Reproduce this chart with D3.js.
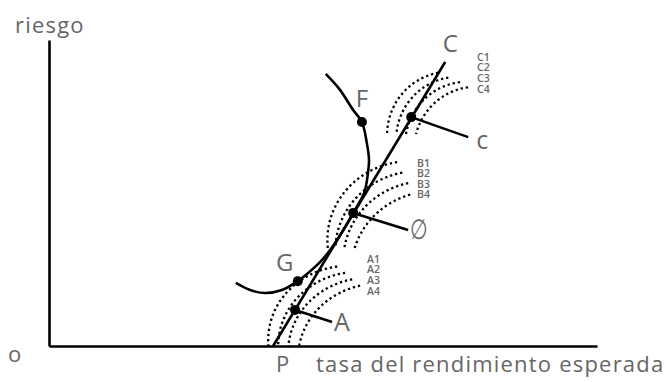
<!DOCTYPE html>
<html>
<head>
<meta charset="utf-8">
<script src="https://cdn.jsdelivr.net/npm/d3@7"></script>
<style>
  body { margin: 0; background: #fff; }
  svg { display: block; }
  text { font-family: "Open Sans", sans-serif; fill: #666; }
</style>
</head>
<body>
<svg id="chart" width="666" height="382"></svg>
<script>
// ---- Labels -------------------------------------------------------------
const yTitle = "riesgo";
const xTitle = "tasa del rendimiento esperada";
const originLabel = "o";
const riskFreeLabel = "P";
const lineLabel = "C";

// ---- Capital market line (return vs. risk, 0–100 scale) -------------------
const lineReturn = [40.9, 72.3];
const lineRisk = [0, 92.8];

// Chosen portfolios on the line
const portfolioNames = ["A", "\u2205", "c"];
const portfolioReturn = [44.9, 55.5, 66.1];
const portfolioRisk = [11.8, 43.5, 74.8];

// ---- Efficient frontier ----------------------------------------------------
const frontierReturn = [50.5, 53.1, 55.5, 57.1, 58.0, 58.4, 58.2, 57.5, 55.5, 53.5,
                        51.3, 49.5, 47.3, 45.4, 42.5, 39.4, 36.7, 34.1];
const frontierRisk   = [88.9, 83.7, 77.1, 73.2, 66.3, 60.8, 56.5, 50.0, 43.5, 37.3,
                        31.4, 27.5, 23.9, 21.2, 18.3, 17.3, 18.3, 20.6];
const frontierPointNames = ["F", "G"];
const frontierPointReturn = [57.1, 45.4];
const frontierPointRisk = [73.2, 21.2];

// ---- Indifference curves: four levels per investor -------------------------
const investorNames = ["A", "B", "C"];
const curveLevels = ["1", "2", "3", "4"];
const curveCenterReturn = [54.6, 65.9, 73.0];
const curveCenterRisk = [2.0, 34.6, 69.0];
const curveRadiusReturn = [14.6, 15.1, 11.3];
const curveRadiusRisk = [24.2, 25.8, 20.6];
const curveStepReturn = [1.82, 1.46, 1.64];
const curveStepRisk = [-1.96, -3.27, -1.63];
const curveFloorRisk = [0, 32.0, 69.3];
const curveEndAngle = [[97.9, 99.4, 101.5, 103.0],
                       [99.0, 101.0, 102.5, 106.8],
                       [100.0, 99.0, 96.5, 97.4]];

// ---- Layout ----------------------------------------------------------------
const svg = d3.select("#chart");
const x = d3.scaleLinear().domain([0, 100]).range([49, 597]);
const y = d3.scaleLinear().domain([0, 100]).range([346, 40]);
const ink = "#000";
const strokeW = 2.6;

// Axes (no ticks, just the domain lines)
svg.append("g").attr("transform", `translate(0,${y(0)})`)
  .call(d3.axisBottom(x).tickValues([]).tickSizeOuter(0))
  .call(g => g.select(".domain").attr("stroke", ink).attr("stroke-width", strokeW));
svg.append("g").attr("transform", `translate(${x(0)},0)`)
  .call(d3.axisLeft(y).tickValues([]).tickSizeOuter(0))
  .call(g => g.select(".domain").attr("stroke", ink).attr("stroke-width", strokeW));

svg.append("text").attr("x", 15).attr("y", 33).attr("font-size", 22)
  .attr("letter-spacing", 1.2).text(yTitle);
svg.append("text").attr("x", 8).attr("y", 362).attr("font-size", 22).text(originLabel);
svg.append("text").attr("x", 276).attr("y", 372).attr("font-size", 22).text(riskFreeLabel);
svg.append("text").attr("x", 316).attr("y", 372).attr("font-size", 22)
  .attr("letter-spacing", 1.2).text(xTitle);

// Indifference curves (dotted elliptical arcs)
const curveLabelLayout = [
  { x: 367, y: [263, 273, 284, 295] },
  { x: 417, y: [167, 177, 188, 198] },
  { x: 477, y: [61, 71, 82, 93] }
];
const arcLine = d3.line().x(d => d[0]).y(d => d[1]);
investorNames.forEach((name, gi) => {
  const g = svg.append("g");
  curveLevels.forEach((lvl, li) => {
    const cxv = curveCenterReturn[gi] + li * curveStepReturn[gi];
    const cyv = curveCenterRisk[gi] + li * curveStepRisk[gi];
    const cx = x(cxv), cy = y(cyv);
    const rx = x(cxv + curveRadiusReturn[gi]) - cx;
    const ry = cy - y(cyv + curveRadiusRisk[gi]);
    const floorY = y(curveFloorRisk[gi]);
    const a0 = curveEndAngle[gi][li] * Math.PI / 180;
    const a1 = Math.PI - Math.asin(Math.max(-1, Math.min(1, (cy - floorY) / ry)));
    const pts = d3.range(0, 81).map(k => {
      const a = a0 + (a1 - a0) * k / 80;
      return [cx + rx * Math.cos(a), cy - ry * Math.sin(a)];
    });
    g.append("path").attr("d", arcLine(pts))
      .attr("fill", "none").attr("stroke", ink)
      .attr("stroke-width", 2.3).attr("stroke-dasharray", "2.3 2.9");
    g.append("text")
      .attr("x", curveLabelLayout[gi].x).attr("y", curveLabelLayout[gi].y[li])
      .attr("font-size", 10.5).attr("font-weight", 600).text(name + lvl);
  });
});

// Efficient frontier
const frontier = d3.zip(frontierReturn, frontierRisk);
svg.append("path")
  .attr("d", d3.line().x(d => x(d[0])).y(d => y(d[1])).curve(d3.curveCatmullRom.alpha(0.5))(frontier))
  .attr("fill", "none").attr("stroke", ink).attr("stroke-width", strokeW);

// Capital market line
svg.append("line")
  .attr("x1", x(lineReturn[0])).attr("y1", y(lineRisk[0]))
  .attr("x2", x(lineReturn[1])).attr("y2", y(lineRisk[1]))
  .attr("stroke", ink).attr("stroke-width", strokeW);
svg.append("text").attr("x", x(lineReturn[1]) + 5).attr("y", y(lineRisk[1]) - 10)
  .attr("text-anchor", "middle").attr("font-size", 24).text(lineLabel);

// Frontier points F and G
const fgLabelOffset = [[0, -15], [-13, -10]];
frontierPointNames.forEach((n, i) => {
  const px = x(frontierPointReturn[i]), py = y(frontierPointRisk[i]);
  svg.append("circle").attr("cx", px).attr("cy", py).attr("r", 5).attr("fill", ink);
  svg.append("text").attr("x", px + fgLabelOffset[i][0]).attr("y", py + fgLabelOffset[i][1])
    .attr("text-anchor", "middle").attr("font-size", 24).text(n);
});

// Portfolios with callout lines (the tangency label is drawn as a narrow slashed oval)
const calloutOffset = [[37, 12], [55, 17], [57, 20]];
const calloutText = [[2, 9, 25], [2, 9, 26], [8, 12, 25]];
const calloutScale = [[1, 1], [0.78, 1.08], [1, 1]];
portfolioNames.forEach((n, i) => {
  const px = x(portfolioReturn[i]), py = y(portfolioRisk[i]);
  const ex = px + calloutOffset[i][0], ey = py + calloutOffset[i][1];
  svg.append("line").attr("x1", px).attr("y1", py).attr("x2", ex).attr("y2", ey)
    .attr("stroke", ink).attr("stroke-width", strokeW);
  svg.append("circle").attr("cx", px).attr("cy", py).attr("r", 5).attr("fill", ink);
  svg.append("text")
    .attr("transform", `translate(${ex + calloutText[i][0]},${ey + calloutText[i][1]}) scale(${calloutScale[i][0]},${calloutScale[i][1]})`)
    .attr("font-size", calloutText[i][2]).text(n);
});
</script>
</body>
</html>
